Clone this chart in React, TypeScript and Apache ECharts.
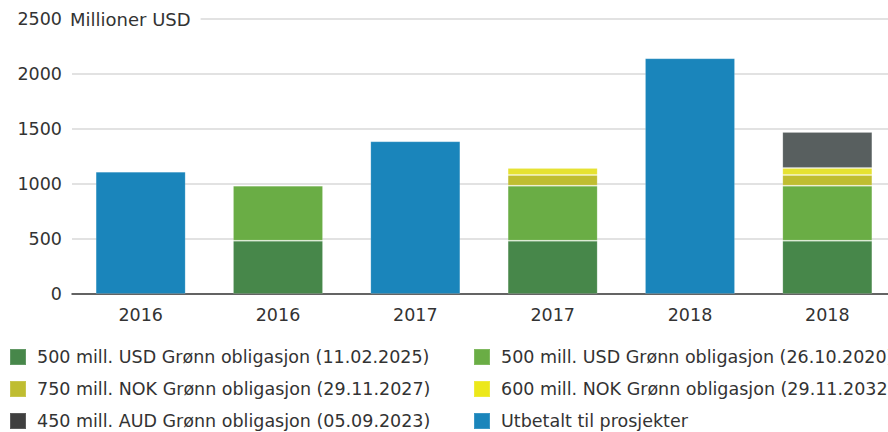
import React, { useEffect, useRef } from "react";
import * as echarts from "echarts";

const categories = ["2016", "2016", "2017", "2017", "2018", "2018"];
const usd2025 = [null, 485, null, 485, null, 485];
const usd2020 = [null, 500, null, 500, null, 500];
const nok2027 = [null, null, null, 97, null, 97];
const nok2032 = [null, null, null, 64, null, 64];
const aud2023 = [null, null, null, null, null, 327];
const utbetalt = [1112, null, 1388, null, 2143, null];
const yTicks = [0, 500, 1000, 1500, 2000, 2500];

const names = [
  "500 mill. USD Grønn obligasjon (11.02.2025)",
  "500 mill. USD Grønn obligasjon (26.10.2020)",
  "750 mill. NOK Grønn obligasjon (29.11.2027)",
  "600 mill. NOK Grønn obligasjon (29.11.2032)",
  "450 mill. AUD Grønn obligasjon (05.09.2023)",
  "Utbetalt til prosjekter",
];
const colors = ["#47874a", "#6aad45", "#bfbd31", "#e6e232", "#585f5f", "#1a85bb"];
const legendColors = ["#47874a", "#6aad45", "#bfbd31", "#ece81a", "#3f3f3f", "#1a85bb"];
const seriesData = [usd2025, usd2020, nok2027, nok2032, aud2023, utbetalt];

const FONT = "DejaVu Sans";

export default function App() {
  const ref = useRef<HTMLDivElement>(null);
  useEffect(() => {
    if (!ref.current) return;
    const chart = echarts.init(ref.current, null, { renderer: "svg" });
    const legendPos = [
      [9, 348],
      [473, 348],
      [9, 380],
      [473, 380],
      [9, 412],
      [473, 412],
    ];
    chart.setOption({
      animation: false,
      textStyle: { fontFamily: FONT },
      grid: { left: 72, top: 19, right: 0, bottom: 138, containLabel: false },
      xAxis: {
        type: "category",
        data: categories,
        axisTick: { show: false },
        axisLine: { lineStyle: { color: "#3a3a3a", width: 1.5 } },
        axisLabel: { color: "#333", fontSize: 17.5, fontFamily: FONT, margin: 12 },
      },
      yAxis: {
        type: "value",
        min: yTicks[0],
        max: yTicks[yTicks.length - 1],
        interval: 500,
        axisLine: { show: false },
        axisTick: { show: false },
        axisLabel: {
          color: "#333",
          fontSize: 17.5,
          fontFamily: FONT,
          margin: 10,
          formatter: (v: number) => String(v),
        },
        splitLine: { lineStyle: { color: "#d9d9d9", width: 1.5 } },
      },
      legend: names.map((n, i) => ({
        left: legendPos[i][0],
        top: legendPos[i][1],
        padding: 0,
        itemWidth: 16,
        itemHeight: 16,
        icon: "rect",
        selectedMode: false,
        data: [{ name: n, itemStyle: { color: legendColors[i] } }],
        textStyle: { color: "#333", fontSize: 17.5, fontFamily: FONT, padding: [0, 0, 0, 6] },
      })),
      graphic: [
        {
          type: "text",
          left: 68,
          top: 8,
          z: 100,
          style: {
            text: "Millioner USD",
            fill: "#333",
            font: `18px "${FONT}"`,
            backgroundColor: "#fff",
            padding: [2, 10, 2, 2],
          },
        },
      ],
      series: names.map((n, i) => ({
        name: n,
        type: "bar",
        stack: "total",
        barWidth: 90,
        data: seriesData[i],
        itemStyle: { color: colors[i], borderColor: "rgba(255,255,255,0.15)", borderWidth: 1 },
      })),
    });
    return () => chart.dispose();
  }, []);
  return (
    <div
      style={{ position: "absolute", left: 0, top: 0, width: 888, height: 432, overflow: "hidden" }}
    >
      <div ref={ref} style={{ width: 896, height: 432 }} />
    </div>
  );
}
